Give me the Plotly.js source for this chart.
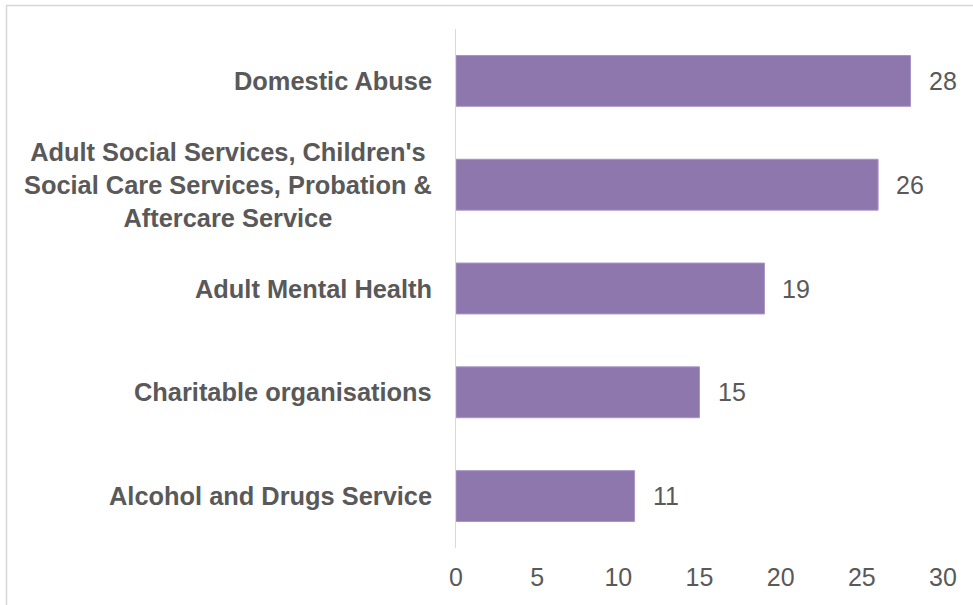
<!DOCTYPE html>
<html>
<head>
<meta charset="utf-8">
<script src="https://cdn.plot.ly/plotly-3.0.1.min.js"></script>
<style>
  html, body { margin: 0; padding: 0; background: #ffffff; }
  #chart { width: 973px; height: 605px; }
</style>
</head>
<body>
<div id="chart"></div>
<script>
// Data (top to bottom as shown)
const categories = [
  "Domestic Abuse",
  "Adult Social Services, Children's<br>Social Care Services, Probation &<br>Aftercare Service",
  "Adult Mental Health",
  "Charitable organisations",
  "Alcohol and Drugs Service"
];
const values = [28, 26, 19, 15, 11];
const tickValues = [0, 5, 10, 15, 20, 25, 30];

const W = 973, H = 605;
const M = { l: 456, r: 30, t: 29, b: 57 };
const plotW = W - M.l - M.r, plotH = H - M.t - M.b;

const textColor = '#595959';
const catFont = { family: 'Liberation Sans, Arial, sans-serif', size: 25.4, color: textColor, weight: 'bold' };
const numFont = { family: 'Liberation Sans, Arial, sans-serif', size: 25, color: textColor };

const trace = {
  type: 'bar',
  orientation: 'h',
  x: values,
  y: categories,
  marker: { color: '#8e77ad', line: { color: '#a994c6', width: 1 } },
  hoverinfo: 'skip'
};

const annotations = [];
categories.forEach((c, i) => {
  annotations.push({
    xref: 'paper', yref: 'y', x: 0, y: c,
    xanchor: 'right', yanchor: 'middle', xshift: -22,
    text: '<b>' + c + '</b>', align: 'center', showarrow: false,
    font: catFont
  });
  annotations.push({
    xref: 'x', yref: 'y', x: values[i], y: c,
    xanchor: 'left', yanchor: 'middle', xshift: 16,
    text: String(values[i]), showarrow: false,
    font: numFont
  });
});

// frame around the chart (light grey border, left & top visible)
const px2x = p => (p - M.l) / plotW;
const py2y = p => (H - M.b - p) / plotH;
const shapes = [{
  type: 'rect', xref: 'paper', yref: 'paper',
  x0: px2x(6.5), x1: px2x(W + 20), y0: py2y(H + 20), y1: py2y(5.5),
  line: { color: '#d6d6d6', width: 1.5 }, fillcolor: 'rgba(0,0,0,0)', layer: 'below'
}];

const layout = {
  width: W, height: H,
  margin: M,
  paper_bgcolor: '#ffffff', plot_bgcolor: '#ffffff',
  showlegend: false,
  bargap: 0.51,
  xaxis: {
    range: [0, 30], tickvals: tickValues, ticktext: tickValues.map(String),
    showgrid: false, zeroline: false, showline: false, ticks: '',
    tickfont: numFont, ticklabelstandoff: 12, fixedrange: true
  },
  yaxis: {
    autorange: 'reversed', showticklabels: false, ticks: '',
    showgrid: false, zeroline: false,
    showline: true, linecolor: '#d9d9d9', linewidth: 1, fixedrange: true
  },
  annotations: annotations,
  shapes: shapes
};

Plotly.newPlot('chart', [trace], layout, { staticPlot: true, displayModeBar: false });
</script>
</body>
</html>
